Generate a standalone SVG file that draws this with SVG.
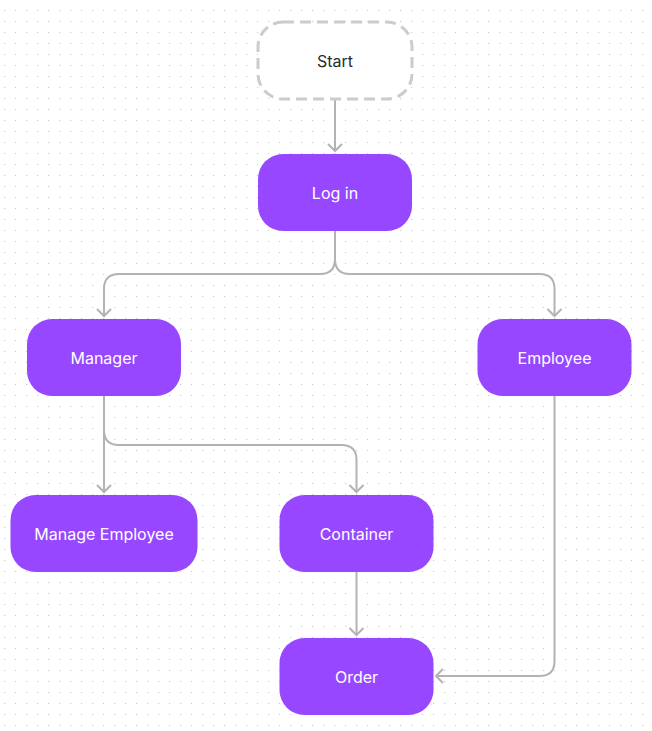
<svg xmlns="http://www.w3.org/2000/svg" width="652" height="731" viewBox="0 0 652 731">
  <defs>
    <pattern id="dots" x="0" y="0" width="11" height="11" patternUnits="userSpaceOnUse">
      <rect x="4" y="10" width="1.2" height="1.2" fill="#c8c8c8"/>
    </pattern>
    <marker id="arrow" viewBox="0 0 16 10" refX="8" refY="8" markerWidth="16" markerHeight="10" markerUnits="userSpaceOnUse" orient="0">
      <path d="M1,1 L8,8 L15,1" fill="none" stroke="#b3b3b3" stroke-width="2"/>
    </marker>
    <marker id="arrowL" viewBox="0 0 10 16" refX="2" refY="8" markerWidth="10" markerHeight="16" markerUnits="userSpaceOnUse" orient="0">
      <path d="M9,1 L2,8 L9,15" fill="none" stroke="#b3b3b3" stroke-width="2"/>
    </marker>
  </defs>
  <style>
    .node { fill: #9747FF; }
    .label { font-family: Inter, "Liberation Sans", sans-serif; font-size: 16px; font-weight: 400; fill: #ffffff; text-anchor: middle; dominant-baseline: central; }
    .start { fill: #ffffff; stroke: #cccccc; stroke-width: 3; stroke-dasharray: 11 6; }
    .startlabel { fill: #2b2b2b; }
    .conn { fill: none; stroke: #b3b3b3; stroke-width: 2; }
  </style>
  <rect width="652" height="731" fill="#ffffff"/>
  <rect width="652" height="731" fill="url(#dots)"/>

  <g id="connectors">
    <path class="conn" d="M335,100 V151" marker-end="url(#arrow)"/>
    <path class="conn" d="M335,231 V259 Q335,274 320,274 H119 Q104,274 104,289 V316" marker-end="url(#arrow)"/>
    <path class="conn" d="M335,231 V259 Q335,274 350,274 H539.5 Q554.5,274 554.5,289 V316" marker-end="url(#arrow)"/>
    <path class="conn" d="M104,396 V492" marker-end="url(#arrow)"/>
    <path class="conn" d="M104,396 V430 Q104,445 119,445 H341.5 Q356.5,445 356.5,460 V492" marker-end="url(#arrow)"/>
    <path class="conn" d="M356.5,572 V635" marker-end="url(#arrow)"/>
    <path class="conn" d="M554.5,396 V661 Q554.5,676 539.5,676 H436" marker-end="url(#arrowL)"/>
  </g>

  <g id="start">
    <rect class="start" x="258" y="22" width="154" height="77" rx="25"/>
    <text class="label startlabel" x="335" y="60.5">Start</text>
  </g>
  <g id="login">
    <rect class="node" x="258" y="154" width="154" height="77" rx="25"/>
    <text class="label" x="335" y="192.5">Log in</text>
  </g>
  <g id="manager">
    <rect class="node" x="27" y="319" width="154" height="77" rx="25"/>
    <text class="label" x="104" y="357.5">Manager</text>
  </g>
  <g id="employee">
    <rect class="node" x="477.5" y="319" width="154" height="77" rx="25"/>
    <text class="label" x="554.5" y="357.5">Employee</text>
  </g>
  <g id="manage-employee">
    <rect class="node" x="10.5" y="495" width="187" height="77" rx="25"/>
    <text class="label" x="104" y="533.5">Manage Employee</text>
  </g>
  <g id="container">
    <rect class="node" x="279.5" y="495" width="154" height="77" rx="25"/>
    <text class="label" x="356.5" y="533.5">Container</text>
  </g>
  <g id="order">
    <rect class="node" x="279.5" y="638" width="154" height="77" rx="25"/>
    <text class="label" x="356.5" y="676.5">Order</text>
  </g>
</svg>
